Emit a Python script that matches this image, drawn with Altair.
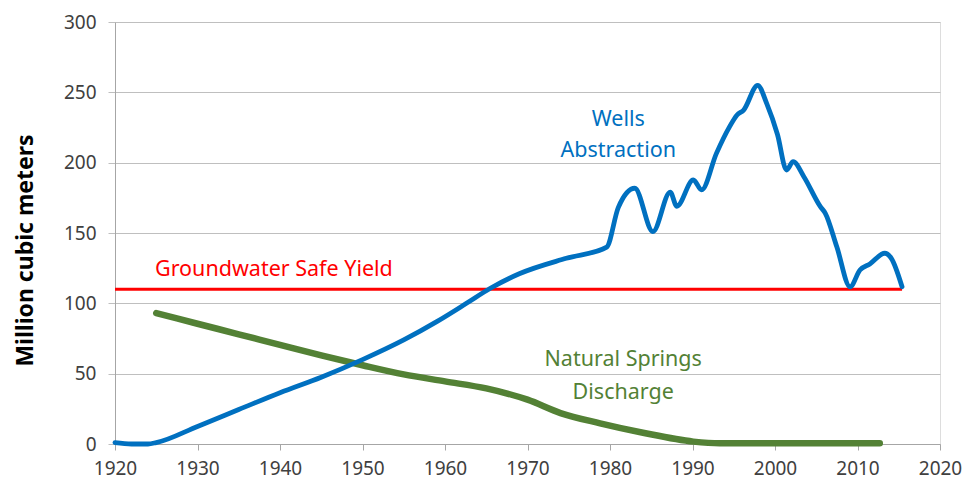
import altair as alt
import pandas as pd

# Wells abstraction (million m3)
wells_year = [1920, 1922, 1924, 1925, 1930, 1935, 1940, 1945, 1950, 1955, 1959, 1962.6, 1965.5, 1969,
              1974.7, 1979.6, 1981, 1983, 1985.2, 1987.3, 1988.1, 1990.1, 1991.1, 1992.9, 1994.5,
              1995.4, 1996.2, 1997.9, 1999, 2000.3, 2001.4, 2002.2, 2003.5, 2005.5, 2006.1,
              2007.5, 2009.1, 2010.3, 2011.5, 2013.3, 2014.1, 2015.4]
wells_val = [1, 0, 0, 1, 12.5, 24.5, 36.5, 47.5, 60, 74, 87, 100, 110.7, 121,
             132, 140, 168, 181.8, 151, 179, 169, 187.7, 180.6, 206.6, 225.6,
             233.9, 237.4, 255, 242, 220, 194.8, 200.7, 190, 168.7, 164,
             140, 111.8, 123.7, 128, 135.6, 132, 111.8]

# Natural springs discharge
springs_year = [1925, 1930, 1935, 1940, 1945, 1950, 1955, 1960, 1965, 1970, 1974,
                1978.8, 1984, 1990.1, 1993.3, 2000, 2012.7]
springs_val = [93, 85.5, 78, 70.5, 63, 56, 49.5, 44.5, 39.5, 31.5, 22, 14.7, 8, 1.7, 0.5, 0.5, 0.5]

# Groundwater safe yield
safe_year = [1920, 2015.4]
safe_val = [110, 110]

wells = pd.DataFrame({"year": wells_year, "value": wells_val})
springs = pd.DataFrame({"year": springs_year, "value": springs_val})
safe = pd.DataFrame({"year": safe_year, "value": safe_val})

FONT = "Noto Sans"
xs = alt.Scale(domain=[1920, 2020], nice=False, zero=False)
ys = alt.Scale(domain=[0, 300], nice=False)

x_enc = alt.X("year:Q", scale=xs,
              axis=alt.Axis(values=list(range(1920, 2021, 10)), format="d", title=None,
                            grid=False, domainColor="#a6a6a6", tickColor="#a6a6a6",
                            tickSize=6, labelFontSize=19, labelColor="#404040",
                            labelFont=FONT, labelPadding=9, labelFlush=False))
y_enc = alt.Y("value:Q", scale=ys,
              axis=alt.Axis(values=list(range(0, 301, 50)), title="Million cubic meters",
                            titleFontSize=23, titleFont=FONT, titleFontWeight="bold",
                            titleColor="#000000", titlePadding=26, titleY=228,
                            grid=True, gridColor="#bfbfbf", domainColor="#a6a6a6",
                            tickColor="#bfbfbf", tickSize=7, labelFontSize=19,
                            labelColor="#404040", labelFont=FONT, labelPadding=12,
                            labelFlush=False))

safe_line = alt.Chart(safe).mark_line(color="#ff0000", strokeWidth=3).encode(x=x_enc, y=y_enc)
springs_line = alt.Chart(springs).mark_line(color="#538135", strokeWidth=6.5,
                                            interpolate="monotone", strokeCap="round").encode(x="year:Q", y="value:Q")
wells_line = alt.Chart(wells).mark_line(color="#0070c0", strokeWidth=4.8,
                                        interpolate="monotone", strokeCap="round").encode(x="year:Q", y="value:Q")

labels = pd.DataFrame({
    "year": [1981.0, 1981.0, 1924.85, 1981.6, 1981.6],
    "value": [230.5, 208, 123.7, 59.7, 36.3],
    "text": ["Wells", "Abstraction", "Groundwater Safe Yield", "Natural Springs", "Discharge"],
    "color": ["#0070c0", "#0070c0", "#ff0000", "#538135", "#538135"],
    "align": ["center", "center", "left", "center", "center"],
})

def label(i):
    row = labels.iloc[[i]]
    return alt.Chart(row).mark_text(font=FONT, fontSize=21.5, color=row["color"].iloc[0],
                                    align=row["align"].iloc[0], baseline="middle").encode(
        x="year:Q", y="value:Q", text="text:N")

chart = alt.layer(safe_line, springs_line, wells_line, *[label(i) for i in range(len(labels))]).properties(
    width=825, height=422,
    autosize=alt.AutoSizeParams(type="none"),
    padding={"left": 107, "top": 14, "right": 28, "bottom": 38},
).configure_view(stroke=None).configure(background="white")

chart.save("out.html", embed_options={"renderer": "svg", "actions": False})
